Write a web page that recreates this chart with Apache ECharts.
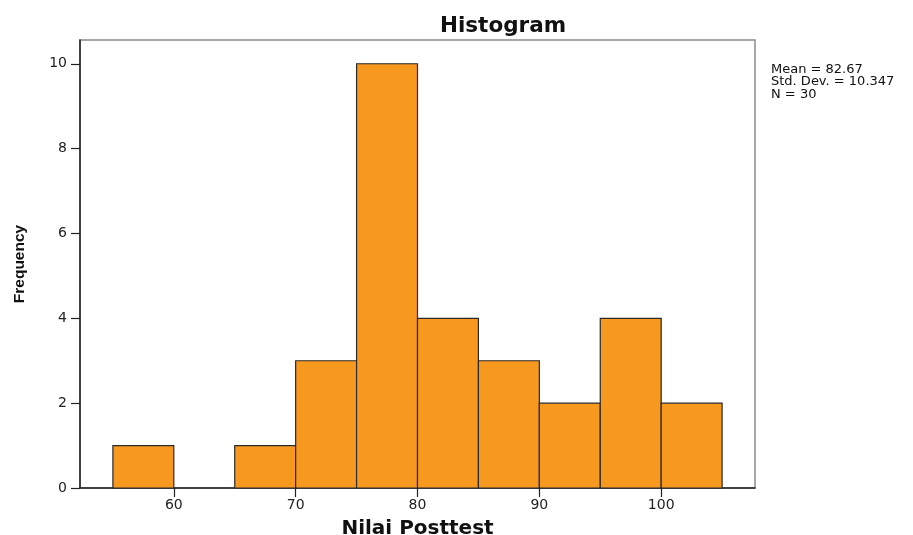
<!DOCTYPE html>
<html>
<head>
<meta charset="utf-8">
<script src="https://cdn.jsdelivr.net/npm/echarts@6/dist/echarts.min.js"></script>
<style>html,body{margin:0;padding:0;background:#fff}#c{width:913px;height:535px}</style>
</head>
<body>
<div id="c"></div>
<script>
// Histogram data
var binStarts = [55, 60, 65, 70, 75, 80, 85, 90, 95, 100];
var binWidth = 5;
var counts = [1, 0, 1, 3, 10, 4, 3, 2, 4, 2];
var xTicks = [60, 70, 80, 90, 100];
var yTicks = [0, 2, 4, 6, 8, 10];
var statsLines = ['Mean = 82.67', 'Std. Dev. = 10.347', 'N = 30'];

var data = binStarts.map(function (s, i) { return [s, s + binWidth, counts[i]]; })
  .filter(function (d) { return d[2] > 0; });

var chart = echarts.init(document.getElementById('c'), null, { renderer: 'canvas' });
chart.setOption({
  animation: false,
  backgroundColor: '#fff',
  title: {
    text: 'Histogram',
    left: 498, top: 10, textAlign: 'center',
    textStyle: { fontFamily: 'DejaVu Sans', fontWeight: 'bold', fontSize: 21.5, color: '#111' }
  },
  grid: {
    left: 80, top: 40, right: 158, bottom: 47,
    outerBoundsMode: 'none', containLabel: false,
    show: true, borderColor: '#8a8a8a', borderWidth: 1.5, backgroundColor: '#fff'
  },
  xAxis: {
    type: 'value', min: 52.3, max: 107.7,
    name: 'Nilai Posttest', nameLocation: 'middle', nameGap: 31,
    nameTextStyle: { fontFamily: 'DejaVu Sans', fontWeight: 'bold', fontSize: 20, color: '#111' },
    axisLine: { show: true, lineStyle: { color: '#222', width: 1.5 } },
    axisTick: { show: true, length: 9, customValues: xTicks, lineStyle: { color: '#222', width: 1.2 } },
    axisLabel: { customValues: xTicks, margin: 10, fontFamily: 'DejaVu Sans', fontSize: 14, color: '#222' },
    splitLine: { show: false }
  },
  yAxis: {
    type: 'value', min: 0, max: 10.56,
    name: 'Frequency', nameLocation: 'middle', nameGap: 52, nameRotate: 90,
    nameTextStyle: { fontFamily: 'Liberation Sans', fontWeight: 'bold', fontSize: 15.5, color: '#111' },
    axisLine: { show: true, lineStyle: { color: '#222', width: 1.5 } },
    axisTick: { show: true, length: 9, customValues: yTicks, lineStyle: { color: '#222', width: 1.2 } },
    axisLabel: { customValues: yTicks, margin: 13, fontFamily: 'DejaVu Sans', fontSize: 14, color: '#222' },
    splitLine: { show: false }
  },
  graphic: [{
    type: 'text', left: 771, top: 63,
    style: {
      text: statsLines.join('\n'),
      font: '13px "DejaVu Sans"', fill: '#111', lineHeight: 12.5
    }
  }],
  series: [{
    type: 'custom',
    data: data,
    encode: { x: [0, 1], y: 2 },
    renderItem: function (params, api) {
      var p0 = api.coord([api.value(0), api.value(2)]);
      var p1 = api.coord([api.value(1), 0]);
      return {
        type: 'rect',
        shape: { x: p0[0], y: p0[1], width: p1[0] - p0[0], height: p1[1] - p0[1] },
        style: { fill: '#F7981F', stroke: '#2a2a2a', lineWidth: 1.2 }
      };
    }
  }]
});
</script>
</body>
</html>
